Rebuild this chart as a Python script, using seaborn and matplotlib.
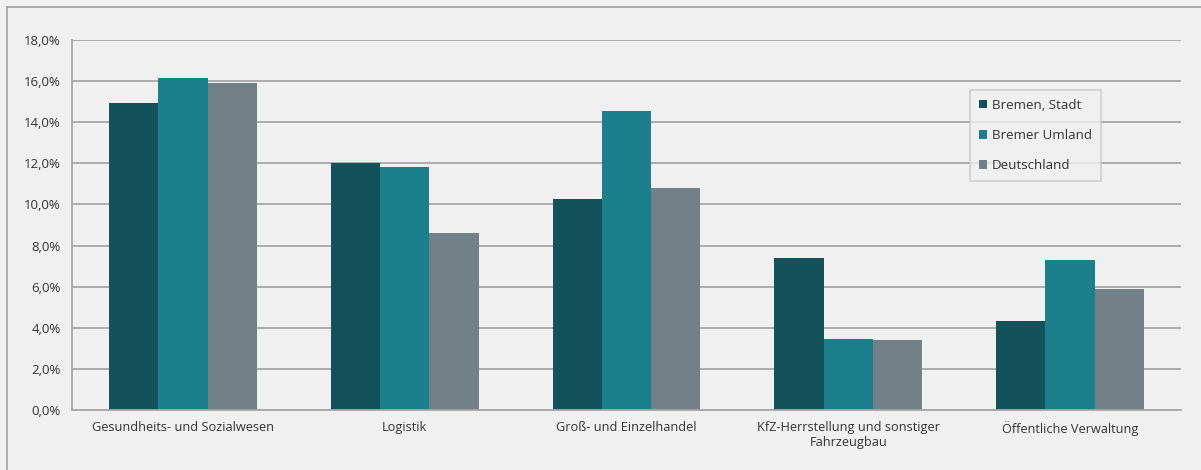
import numpy as np
import matplotlib.pyplot as plt
import seaborn as sns
import pandas as pd
from matplotlib.ticker import FuncFormatter
from matplotlib.lines import Line2D

categories = ["Gesundheits- und Sozialwesen", "Logistik", "Groß- und Einzelhandel",
              "KfZ-Herrstellung und sonstiger\nFahrzeugbau", "Öffentliche Verwaltung"]
series = ["Bremen, Stadt", "Bremer Umland", "Deutschland"]
bremen_stadt = [14.95, 12.0, 10.25, 7.4, 4.35]
bremer_umland = [16.15, 11.8, 14.55, 3.45, 7.3]
deutschland = [15.9, 8.6, 10.8, 3.4, 5.9]
colors = ["#14525b", "#1b7f8c", "#728187"]

df = pd.DataFrame({
    "Branche": categories * 3,
    "Region": [s for s in series for _ in categories],
    "Anteil": bremen_stadt + bremer_umland + deutschland,
})

sns.set_style("white")
plt.rcParams['font.family'] = ['Open Sans', 'DejaVu Sans']
bg = "#f0f0f0"
fig = plt.figure(figsize=(12.01, 4.70), dpi=100, facecolor=bg)
ax = fig.add_axes([72 / 1201, 60 / 470, (1181 - 72) / 1201, 370 / 470])
ax.set_facecolor(bg)

sns.barplot(data=df, x="Branche", y="Anteil", hue="Region", palette=colors,
            width=0.667, gap=0, ax=ax, saturation=1, edgecolor="none")

ax.set_ylim(0, 18)
ax.set_xlim(-0.5, 4.5)
ax.set_yticks(np.arange(0, 18.1, 2))
ax.yaxis.set_major_formatter(FuncFormatter(lambda v, p: f"{v:.1f}%".replace(".", ",")))
ax.grid(axis="y", color="#a6a6a6", linewidth=1.3)
ax.set_axisbelow(True)
for s in ["top", "right"]:
    ax.spines[s].set_visible(False)
ax.spines["left"].set_color("#a6a6a6")
ax.spines["bottom"].set_color("#a6a6a6")
ax.spines["left"].set_linewidth(1.3)
ax.spines["bottom"].set_linewidth(1.3)
ax.tick_params(axis="y", length=5, color="#a6a6a6", width=1.3, labelsize=9.5, labelcolor="#333333", pad=3)
ax.set_xticks(range(5))
ax.set_xticklabels(categories, fontsize=9.2, color="#333333")
ax.tick_params(axis="x", length=0, pad=8)
ax.set_xticks(np.arange(-0.5, 4.6, 1), minor=True)
ax.tick_params(axis="x", which="minor", length=5, color="#a6a6a6", width=1.3)
ax.set_xlabel("")
ax.set_ylabel("")

leg = ax.legend(loc="upper left", bbox_to_anchor=((970 - 72) / (1181 - 72), (410 - 90) / 370),
                frameon=True, fancybox=False, fontsize=9.6, handlelength=0.6, handleheight=0.6,
                handletextpad=0.4, labelspacing=1.3, borderpad=0.65, borderaxespad=0)
leg.get_frame().set_facecolor(bg)
leg.get_frame().set_edgecolor("#c8c8c8")
leg.get_frame().set_linewidth(1.2)
for t in leg.get_texts():
    t.set_color("#333333")

fig.add_artist(Line2D([6.5 / 1201, 6.5 / 1201], [0, 1 - 7 / 470], transform=fig.transFigure, color="#a0a0a0", lw=1.2))
fig.add_artist(Line2D([6.5 / 1201, 1], [1 - 7 / 470, 1 - 7 / 470], transform=fig.transFigure, color="#a0a0a0", lw=1.2))

fig.savefig("out.png", dpi=100, facecolor=bg)
